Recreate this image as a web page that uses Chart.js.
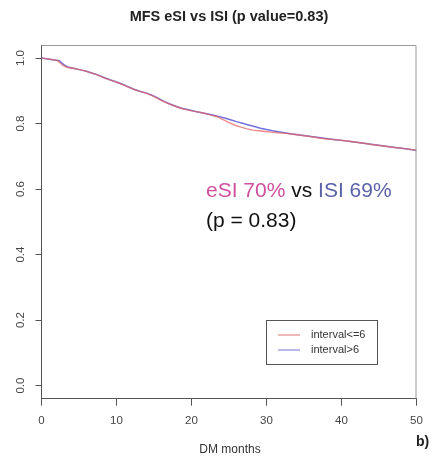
<!DOCTYPE html>
<html>
<head>
<meta charset="utf-8">
<script src="https://cdn.jsdelivr.net/npm/chart.js@4/dist/chart.umd.min.js"></script>
<style>
  html, body { margin: 0; padding: 0; background: #fff; }
  #wrap { position: relative; width: 431px; height: 458px; }
</style>
</head>
<body>
<div id="wrap"><canvas id="km"></canvas></div>
<script>
// Kaplan-Meier metastasis-free survival, two interval groups
const monthsShort = [0, 2.1, 2.5, 2.9, 3.4, 4.2, 5.0, 5.8, 6.6, 7.4, 8.2, 9.0, 9.8, 10.6, 11.4, 12.2, 13.0, 13.8, 14.6, 15.4, 16.2, 17.0, 17.8, 18.6, 19.4, 20.2, 21.0, 21.8, 22.6, 23.4, 24.2, 25.0, 25.8, 26.6, 27.4, 28.2, 29.0, 29.8, 30.6, 31.4, 32.2, 33.0, 34.0, 35.0, 36.0, 37.0, 38.0, 39.0, 40.0, 41.0, 42.0, 43.0, 44.0, 45.0, 46.0, 47.0, 48.0, 49.0, 50.0];
const survShort = [1.0, 0.993, 0.985, 0.977, 0.972, 0.969, 0.965, 0.961, 0.955, 0.949, 0.941, 0.934, 0.928, 0.921, 0.913, 0.905, 0.899, 0.894, 0.887, 0.878, 0.868, 0.860, 0.853, 0.847, 0.842, 0.838, 0.835, 0.831, 0.826, 0.821, 0.812, 0.803, 0.795, 0.789, 0.784, 0.780, 0.778, 0.776, 0.774, 0.772, 0.771, 0.769, 0.766, 0.763, 0.760, 0.756, 0.753, 0.751, 0.749, 0.746, 0.743, 0.740, 0.736, 0.733, 0.730, 0.727, 0.725, 0.722, 0.719];

const monthsLong = [0, 2.4, 2.8, 3.2, 3.6, 4.4, 5.2, 6.0, 6.8, 7.6, 8.4, 9.2, 10.0, 10.8, 11.6, 12.4, 13.2, 14.0, 14.8, 15.6, 16.4, 17.2, 18.0, 18.8, 19.6, 20.4, 21.2, 22.0, 22.8, 23.6, 24.4, 25.2, 26.0, 26.8, 27.6, 28.4, 29.2, 30.0, 30.8, 31.6, 32.4, 33.2, 34.2, 35.2, 36.2, 37.2, 38.2, 39.2, 40.2, 41.2, 42.2, 43.2, 44.2, 45.2, 46.2, 47.2, 48.2, 49.2, 50.0];
const survLong = [1.0, 0.992, 0.983, 0.976, 0.972, 0.968, 0.964, 0.960, 0.954, 0.948, 0.940, 0.933, 0.927, 0.920, 0.912, 0.904, 0.898, 0.893, 0.886, 0.877, 0.867, 0.859, 0.852, 0.846, 0.842, 0.838, 0.834, 0.830, 0.826, 0.822, 0.817, 0.812, 0.806, 0.801, 0.796, 0.791, 0.786, 0.782, 0.778, 0.775, 0.772, 0.769, 0.766, 0.763, 0.760, 0.757, 0.754, 0.751, 0.748, 0.745, 0.742, 0.739, 0.736, 0.733, 0.730, 0.727, 0.724, 0.721, 0.718];

const groupLabels = ['interval<=6', 'interval>6'];
const xTicks = [0, 10, 20, 30, 40, 50];
const yTicks = [0.0, 0.2, 0.4, 0.6, 0.8, 1.0];

const titleText = 'MFS eSI vs ISI (p value=0.83)';
const xLabel = 'DM months';
const panelTag = 'b)';
const noteParts = [['eSI 70%', '#d0509e'], [' vs ', '#111111'], ['ISI 69%', '#5a62a8']];
const noteLine2 = '(p = 0.83)';

const FONT = '"Liberation Sans", Arial, Helvetica, sans-serif';
const lineColors = ['rgba(230,100,100,0.75)', 'rgba(90,88,214,0.85)'];
const legendColors = ['#e48a8a', '#8a8ad8'];

const toPoints = (xs, ys) => xs.map((x, i) => ({ x, y: ys[i] }));

const decor = {
  id: 'decor',
  afterDraw(chart) {
    const { ctx, chartArea: a } = chart;
    const yScale = chart.scales.y;
    ctx.save();
    // plot frame (top and right sides)
    ctx.strokeStyle = '#9a9a9a';
    ctx.lineWidth = 1;
    ctx.beginPath();
    ctx.moveTo(a.left, a.top + 0.5);
    ctx.lineTo(a.right - 0.5, a.top + 0.5);
    ctx.lineTo(a.right - 0.5, a.bottom);
    ctx.stroke();

    // vertical tick labels on the y axis, centred on each tick
    ctx.fillStyle = '#444';
    ctx.font = '11.5px ' + FONT;
    ctx.textAlign = 'center';
    ctx.textBaseline = 'middle';
    yScale.ticks.forEach(t => {
      const py = yScale.getPixelForValue(t.value);
      ctx.save();
      ctx.translate(21, py);
      ctx.rotate(-Math.PI / 2);
      ctx.fillText(t.value.toFixed(1), 0, 0);
      ctx.restore();
    });

    // title
    ctx.fillStyle = '#222';
    ctx.font = 'bold 14.5px ' + FONT;
    ctx.textAlign = 'center';
    ctx.textBaseline = 'alphabetic';
    ctx.fillText(titleText, (a.left + a.right) / 2, 20.5);

    // x axis title
    ctx.font = '12px ' + FONT;
    ctx.fillStyle = '#333';
    ctx.fillText(xLabel, 230, 453);

    // panel tag
    ctx.font = 'bold 14px ' + FONT;
    ctx.fillStyle = '#222';
    ctx.textAlign = 'left';
    ctx.fillText(panelTag, 416, 446);

    // annotation
    ctx.font = '21px ' + FONT;
    let x = 206;
    noteParts.forEach(([t, c]) => {
      ctx.fillStyle = c;
      ctx.fillText(t, x, 196.5);
      x += ctx.measureText(t).width;
    });
    ctx.fillStyle = '#111';
    ctx.fillText(noteLine2, 206, 226.5);

    // legend
    const lx = 266.5, ly = 320.5, lw = 111, lh = 44;
    ctx.strokeStyle = '#555';
    ctx.lineWidth = 1;
    ctx.strokeRect(lx, ly, lw, lh);
    ctx.font = '11px ' + FONT;
    ctx.textBaseline = 'middle';
    groupLabels.forEach((lab, i) => {
      const yy = 335 + i * 15;
      ctx.strokeStyle = legendColors[i];
      ctx.lineWidth = 1.2;
      ctx.beginPath();
      ctx.moveTo(278, yy);
      ctx.lineTo(300, yy);
      ctx.stroke();
      ctx.fillStyle = '#333';
      ctx.fillText(lab, 311, yy);
    });
    ctx.restore();
  }
};

new Chart(document.getElementById('km'), {
  type: 'line',
  data: {
    datasets: [
      { label: groupLabels[0], data: toPoints(monthsShort, survShort), borderColor: lineColors[0], borderWidth: 1.4, pointRadius: 0, tension: 0, fill: false },
      { label: groupLabels[1], data: toPoints(monthsLong, survLong), borderColor: lineColors[1], borderWidth: 1.5, pointRadius: 0, tension: 0, fill: false }
    ]
  },
  options: {
    responsive: true,
    maintainAspectRatio: false,
    animation: false,
    events: [],
    layout: { padding: { top: 45, right: 14.5, left: 0, bottom: 0 } },
    plugins: { legend: { display: false }, title: { display: false }, tooltip: { enabled: false } },
    scales: {
      x: {
        type: 'linear',
        min: 0, max: 50,
        afterBuildTicks: s => { s.ticks = xTicks.map(v => ({ value: v })); },
        afterFit: s => { s.height = 59.3; },
        grid: { drawOnChartArea: false, drawTicks: true, tickLength: 7, color: '#555' },
        border: { display: true, color: '#555', width: 1 },
        ticks: { color: '#444', font: { family: FONT, size: 11.5 }, padding: 8, maxRotation: 0, callback: v => String(v) }
      },
      y: {
        type: 'linear',
        min: -0.04, max: 1.04,
        afterBuildTicks: s => { s.ticks = yTicks.map(v => ({ value: v })); },
        afterFit: s => { s.width = 41.5; },
        grid: { drawOnChartArea: false, drawTicks: true, tickLength: 6, color: '#555' },
        border: { display: true, color: '#555', width: 1 },
        ticks: { display: false }
      }
    }
  },
  plugins: [decor]
});
</script>
</body>
</html>
